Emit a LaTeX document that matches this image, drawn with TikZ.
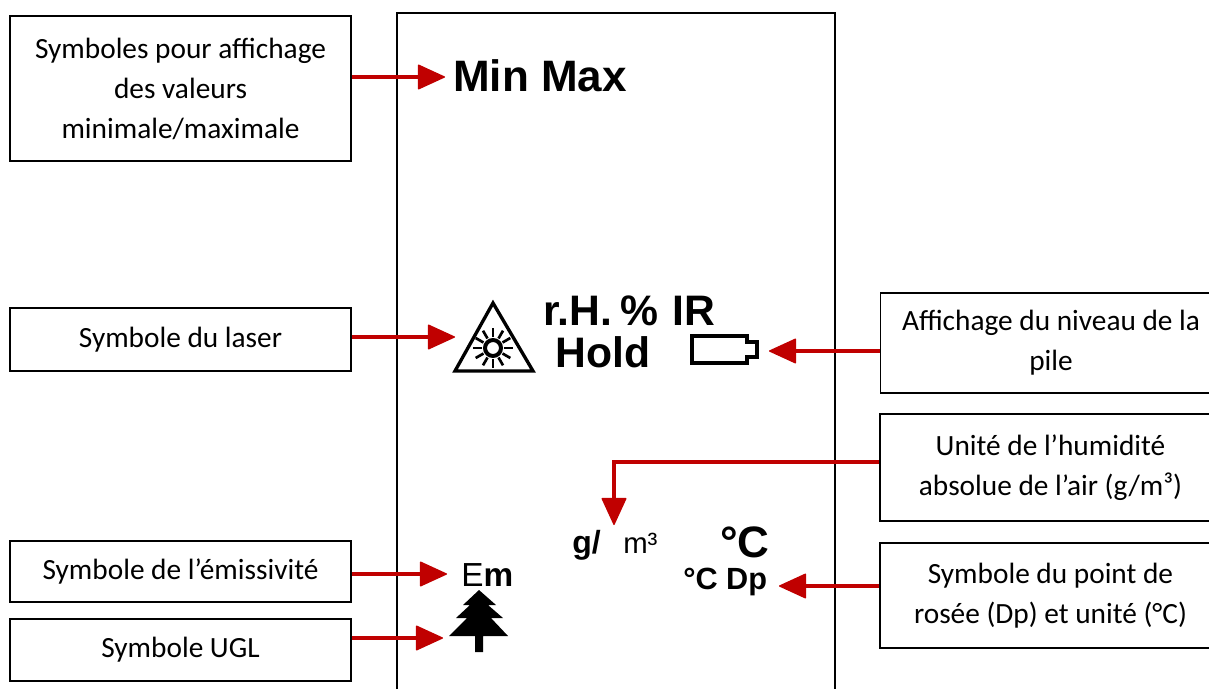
\documentclass[tikz,border=0pt]{standalone}
\usepackage{fontspec}
\setmainfont{Carlito}
\newfontfamily\symfont{Liberation Sans}
\usetikzlibrary{arrows.meta}
\definecolor{arrowred}{HTML}{C00000}
\newcommand{\symtext}[1]{\fontsize{#1}{#1}\selectfont\symfont}

\begin{document}
\begin{tikzpicture}
                \tikzset{x=0.75pt, y=-0.75pt}
                \tikzstyle{info}=[rectangle, draw, line width=1.1pt, align=center, inner sep=0pt, minimum width=255.75pt, font=\fontsize{22}{30}\selectfont]
                \tikzstyle{sym}=[anchor=base west, inner sep=0pt]
                \tikzstyle{pointer}=[draw=arrowred, line width=3.2pt, -{Triangle[length=21pt, width=19pt, line width=1pt, round, fill=arrowred]}]
                \useasboundingbox (0, 0) rectangle (1209, 689);

                % display outline
                \draw [line width=1.3pt]  (397, 689) -- (397, 13) -- (835, 13) -- (835, 689);

                % annotations, left
                \draw (180.5, 88.5)  node[info, minimum height=108.75pt]  (minmaxinfo) {Symboles pour affichage\\des valeurs\\minimale/maximale};
                \draw (180.5, 339.5) node[info, minimum height=47.25pt]   (laserinfo)  {Symbole du laser};
                \draw (180.5, 571.5) node[info, minimum height=45.75pt]   (eminfo)     {Symbole de l’émissivité};
                \draw (180.5, 650.0) node[info, minimum height=46.5pt]    (uglinfo)    {Symbole UGL};

                % annotations, right (they run off the page)
                \draw (1051.0, 343.0) node[info, minimum height=75pt]     (pileinfo)   {Affichage du niveau de la\\pile};
                \draw (1050.5, 467.5) node[info, minimum height=80.25pt]  (gminfo)     {Unité de l’humidité\\absolue de l’air (g/m³)};
                \draw (1050.5, 595.5) node[info, minimum height=78.75pt]  (dpinfo)     {Symbole du point de\\rosée (Dp) et unité (°C)};

                % display symbols
                \draw (453, 91)  node[sym, font=\symtext{33}\bfseries]  (minmax) {Min Max};
                \draw (543, 325) node[sym, font=\symtext{32}\bfseries]  (rh)     {r.H.\hspace{6pt}\%\hspace{11pt}IR};
                \draw (555, 367) node[sym, font=\symtext{32}\bfseries]  (hold)   {Hold};
                \draw (572, 553) node[sym, font=\symtext{24}\bfseries]  (gs)     {g/};
                \draw (623, 553) node[sym, font=\symtext{22}]           (mc)     {m³};
                \draw (720, 557) node[sym, font=\symtext{33}\bfseries]  (degc)   {°C};
                \draw (683, 589) node[sym, font=\symtext{23}\bfseries]  (dp)     {°C Dp};
                \draw (461, 586) node[sym, font=\symtext{25}]           (em)     {E\textbf{m}};

                % laser sign
                \draw [line width=2.5pt, line join=miter] (493, 303) -- (533, 371) -- (455, 371) -- cycle;
                \draw [line width=3pt] (493, 348) circle (8);
                \foreach \a in {0, 30, ..., 330}
                    \draw [line width=2pt] (493, 348) ++(\a:11) -- ++(\a:9);

                % battery
                \draw [line width=2.5pt] (692, 336) -- (747, 336) -- (747, 342) -- (757, 342) -- (757, 357)
                    -- (747, 357) -- (747, 363) -- (692, 363) -- cycle;

                % tree
                \fill (479, 590) -- (496, 605) -- (488, 605) -- (503, 618) -- (491, 618) -- (508, 636)
                    -- (483, 636) -- (483, 652) -- (475, 652) -- (475, 636) -- (449, 636) -- (467, 618)
                    -- (456, 618) -- (470, 605) -- (463, 605) -- cycle;

                % arrow ends
                \coordinate (minmaxtip) at (445, 77);
                \coordinate (lasertip)  at (455, 337);
                \coordinate (emtip)     at (447, 574);
                \coordinate (ugltip)    at (443, 638);
                \coordinate (piletip)   at (769, 351);
                \coordinate (gmbend)    at (614, 462);
                \coordinate (gmtip)     at (614, 525);
                \coordinate (dptip)     at (779, 586);

                % annotation arrows
                \draw [pointer]     (minmaxinfo.east |- minmaxtip) -- (minmaxtip);
                \draw [pointer]     (laserinfo.east |- lasertip) -- (lasertip);
                \draw [pointer]     (eminfo.east |- emtip) -- (emtip);
                \draw [pointer]     (uglinfo.east |- ugltip) -- (ugltip);
                \draw [pointer]     (pileinfo.west |- piletip) -- (piletip);
                \draw [pointer]     (gminfo.west |- gmbend) -- (gmbend) -- (gmtip);
                \draw [pointer]     (dpinfo.west |- dptip) -- (dptip);
            \end{tikzpicture}
\end{document}
